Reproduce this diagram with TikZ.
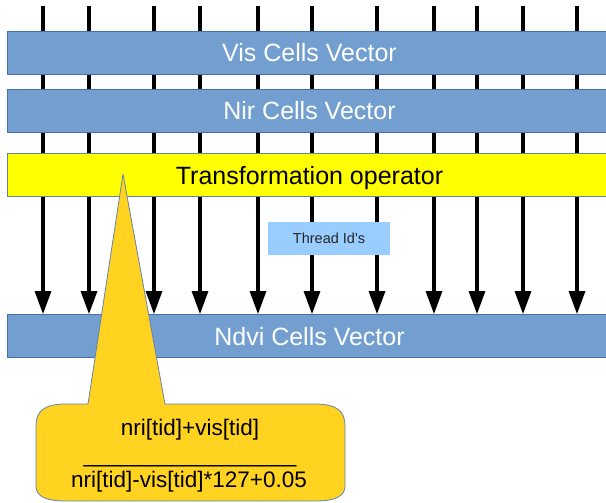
\documentclass[tikz,border=0pt]{standalone}
\usepackage{fontspec}
\setmainfont{Liberation Sans}
\usetikzlibrary{arrows.meta}
\usetikzlibrary{backgrounds}
\definecolor{barblue}{RGB}{114,159,207}
\definecolor{barline}{RGB}{69,114,176}
\definecolor{opyellow}{RGB}{255,255,0}
\definecolor{tidblue}{RGB}{153,204,255}
\definecolor{callgold}{RGB}{255,211,32}
\definecolor{calledge}{RGB}{100,130,175}
\tikzset{
  vecbar/.style={draw=barline,line width=0.8pt,fill=barblue,minimum width=605pt,minimum height=43pt,inner sep=0pt,text height=18pt,text depth=0pt,text=white,font=\fontsize{25}{30}\selectfont},
  opbar/.style={vecbar,draw=calledge,fill=opyellow,text=black},
  thread/.style={line width=3.2pt,black},
  tidbox/.style={fill=tidblue,minimum width=122pt,minimum height=33pt,inner sep=0pt,text=black!85,font=\fontsize{14.5}{17}\selectfont},
  fraction/.style={inner sep=0pt,font=\fontsize{22.5}{27}\selectfont}
}

\begin{document}
\begin{tikzpicture}[line cap=round,line join=round,>={Triangle[length=23pt,width=16pt]},x=1.0pt,y=-1.0pt]
\clip (0,0) rectangle (606,503);
\node[vecbar] (vis) at (309.5,53) {Vis Cells Vector};
\node[vecbar] (nir) at (309.5,110.5) {Nir Cells Vector};
\node[opbar] (trans) at (309.5,175) {Transformation operator};
\node[vecbar] (ndvi) at (309.5,336) {Ndvi Cells Vector};
\begin{scope}[on background layer]
\foreach \x in {43,89,154,200,258,312,377,434,477,523,577} {
  \coordinate (t\x) at (\x,6);
  \draw[thread] (t\x) -- (t\x |- trans.south);
  \draw[thread,->] (t\x |- trans.south) -- (t\x |- ndvi.north);
}
\end{scope}
\node[tidbox] (tid) at (329,238.5) {Thread Id\textquotesingle s};
\filldraw[draw=calledge,fill=callgold,line width=0.8pt] (88,404) -- (123,174) -- (165,404) -- (315,404)
  .. controls (338,404) and (345,412) .. (345,426) -- (345,486)
  .. controls (345,496) and (336,501) .. (315,501) -- (66,501)
  .. controls (45,501) and (36,496) .. (36,486) -- (36,426)
  .. controls (36,412) and (43,404) .. (66,404) -- cycle;
\node[fraction] (num) at (190,430) {nri[tid]+vis[tid]};
\node[fraction,anchor=base] (rule) at (190,462) {\_\_\_\_\_\_\_\_\_\_\_\_\_\_\_\_\_};
\node[fraction] (den) at (189,482) {nri[tid]-vis[tid]*127+0.05};
\end{tikzpicture}
\end{document}
